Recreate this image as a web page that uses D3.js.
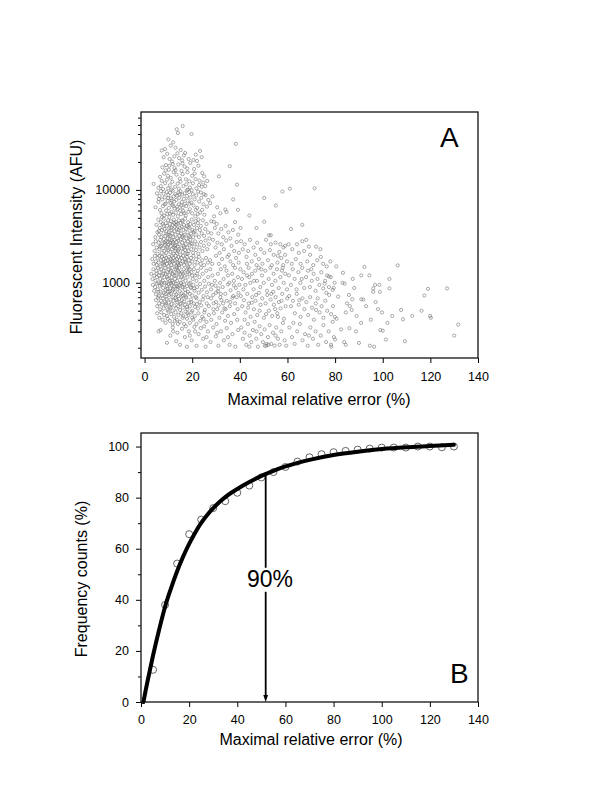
<!DOCTYPE html>
<html>
<head>
<meta charset="utf-8">
<script src="https://cdn.jsdelivr.net/npm/d3@7"></script>
<style>
body { margin: 0; background: #fff; }
text { font-family: Arial, "Liberation Sans", sans-serif; }
</style>
</head>
<body>
<script>
const width = 600;
const height = 800;

// ---- panel A data: [maximal relative error %, fluorescent intensity AFU] ----
const pointsHigh = [[16,48700],[13.5,45000],[14,41000],[19.7,40000],[10,35000],[12,32500],[38.3,31300],[7.2,26600],[23.3,26300],[21.5,24000],[15.2,26900],[8.6,27500],[11,30000],[13,28500],[17,25000],[9.5,24500],[12.5,23000],[14.5,22000],[18.5,21500],[20.5,21000],[22,20500],[10.5,21500],[16.5,23500],[24,22500],[11.5,20200],[13.8,24800],[8,22500],[15.8,20800],
 [35.8,18000],[31.2,14000],[3.8,11600],[38.8,11400],[71.4,10400],[61,10300],
 [7.5,17500],[9,18500],[10.2,16500],[11.8,19000],[12.6,17200],[14.2,18800],[15.5,16000],[16.8,17800],[18,15500],[19.2,19500],[20.8,16800],[22.6,18200],[24.2,15200],[25,14000],[8.2,15000],[9.8,14200],[11,13500],[12.2,15600],[13.4,14600],[14.8,13200],[16,14800],[17.4,13000],[18.8,12400],[20,14200],[21.4,13100],[23,12600],[24.6,12000],[25.5,11000],[6.5,13800],[7.2,12500],[8.6,11800],[9.4,12900],[10.6,11200],[11.6,12200],[12.8,10800],[13.9,11700],[15.1,12300],[16.3,11000],[17.6,11500],[19,10600],[20.3,11800],[21.8,10400],[22.9,11300],[24,10800],[5.8,10500],[7.8,10200],[9.9,10400],[11.3,10100],[14.4,10300],[18.2,10050],[6.8,11000],[26.3,12500],[13,16300],[10.4,18200],[15.9,19300],[17.9,17000],[21,15000],[8.9,16200]];

const points5k = [[57.9,9600],[50.2,8200],[37.2,7900],[55.1,6800],[39.2,6100],[33.9,6150],[34.4,5800],[28.5,8500],[30.5,6500],[27.5,7200],[31.8,5600],[44,5300],[29.2,5200],
 [5.2,9200],[5.8,7400],[6.3,8600],[6.5,6100],[6.9,9700],[7.1,5600],[7.4,7900],[7.7,6700],[8.0,9100],[8.2,5300],[8.5,8300],[8.8,7100],[9.0,6000],[9.3,9500],[9.5,5500],[9.7,7600],[10.0,8800],[10.2,6400],[10.4,5100],[10.7,9300],[10.9,7200],[11.1,8100],[11.3,5800],[11.6,6900],[11.8,9800],[12.0,5400],[12.2,8500],[12.4,7500],[12.6,6300],[12.9,9000],[13.1,5700],[13.3,7800],[13.5,8700],[13.7,6600],[14.0,5200],[14.2,9400],[14.4,7000],[14.6,8200],[14.9,6000],[15.1,9700],[15.3,5500],[15.6,7400],[15.8,8900],[16.0,6500],[16.3,5900],[16.5,8000],[16.8,9200],[17.0,7100],[17.3,5300],[17.5,6700],[17.8,8600],[18.1,7700],[18.4,5800],[18.7,9500],[19.0,6200],[19.3,8300],[19.6,7300],[20.0,5600],[20.3,9000],[20.6,6800],[21.0,7900],[21.3,5200],[21.7,8700],[22.1,6400],[22.5,9600],[22.9,7500],[23.3,5700],[23.8,8200],[24.2,6100],[24.7,7000],[25.1,5400],[25.6,8800],[26.2,6600],[8.4,7000],[11.4,7700],[13.9,6200],[16.7,5600],[19.8,9900],[22.3,5500],[14.7,9000],[12.1,6700],[9.9,8200],[7.3,5100],[6.0,8000],[18.9,7100],[23.6,9400],[21.5,6100],[10.6,5600],[15.4,6800],[17.7,9900],[4.6,6500],[26.8,7800],[24.9,9000]];

const points2k = [[4.5,3100],[5,4200],[5.4,3500],[5.8,4800],[6.1,3300],[6.4,3900],[6.8,4500],[7,3100],[7.3,3700],[7.6,4300],[7.9,3400],[8.1,4900],[8.4,3800],[8.7,3200],[8.9,4400],[9.2,3600],[9.4,4100],[9.7,3000],[9.9,4700],[10.1,3500],[10.4,3900],[10.6,4300],[10.9,3200],[11.1,4600],[11.3,3700],[11.6,3400],[11.8,4200],[12,3100],[12.3,4800],[12.5,3600],[12.7,4000],[13,3300],[13.2,4500],[13.4,3800],[13.7,3000],[13.9,4300],[14.1,3500],[14.4,4700],[14.6,3200],[14.8,3900],[15.1,4400],[15.3,3400],[15.6,4000],[15.8,3100],[16,4600],[16.3,3700],[16.5,4200],[16.8,3300],[17,4900],[17.3,3800],[17.5,3000],[17.8,4100],[18,3500],[18.3,4500],[18.6,3200],[18.9,3900],[19.2,4300],[19.5,3400],[19.8,4800],[20.1,3700],[20.4,3100],[20.7,4200],[21,3600],[21.4,4600],[21.7,3300],[22,3900],[22.4,4400],[22.8,3100],[23.2,3700],[23.6,4100],[24,3400],[24.5,4700],[25,3200],[25.5,3800],[26,4300],[26.6,3500],[27.2,3000],[6,3600],[8,4100],[10.3,3300],[12.4,4400],[14.3,3700],[16.2,3200],[18.4,4000],[20.5,3500],[22.6,4800],[11.2,3900],[13.3,4200],[15.7,4700],[9.6,3300],[19,3100],
 [3.6,2600],[4.2,2200],[4.7,2800],[5.1,2400],[5.5,2050],[5.9,2700],[6.2,2300],[6.6,2900],[6.9,2500],[7.2,2100],[7.5,2650],[7.8,2350],[8.1,2950],[8.3,2200],[8.6,2550],[8.9,2800],[9.1,2100],[9.4,2450],[9.7,2750],[10,2250],[10.2,2600],[10.5,2950],[10.8,2150],[11,2500],[11.3,2850],[11.5,2300],[11.8,2650],[12.1,2050],[12.3,2400],[12.6,2900],[12.9,2200],[13.1,2550],[13.4,2750],[13.6,2100],[13.9,2450],[14.2,2850],[14.4,2300],[14.7,2600],[15,2000],[15.2,2950],[15.5,2350],[15.8,2700],[16.1,2150],[16.4,2500],[16.7,2850],[17,2250],[17.3,2600],[17.6,2050],[17.9,2400],[18.2,2800],[18.5,2200],[18.9,2550],[19.2,2900],[19.6,2300],[20,2650],[20.4,2100],[20.8,2450],[21.2,2800],[21.6,2250],[22.1,2600],[22.6,2050],[23.1,2400],[23.7,2750],[24.3,2200],[24.9,2500],[25.6,2850],[26.3,2300],[27,2600],[6.4,2450],[9.6,2350],[11.9,2750],[14.1,2200],[16.6,2400],[19.4,2650],[13,2350],[10.7,2700],[18.1,2050],[8.4,2700],[12.7,2500]];

const points1k = [[3.2,1800],[3.8,1600],[4.3,1950],[4.7,1700],[5.1,1550],[5.5,1850],[5.9,1650],[6.2,1950],[6.6,1500],[6.9,1750],[7.3,1900],[7.6,1600],[7.9,1800],[8.2,1550],[8.5,1950],[8.8,1700],[9.1,1850],[9.4,1600],[9.7,1750],[10,1500],[10.3,1900],[10.6,1650],[10.9,1800],[11.2,1550],[11.5,1950],[11.8,1700],[12.1,1850],[12.4,1600],[12.7,1750],[13,1950],[13.3,1500],[13.6,1800],[13.9,1650],[14.2,1900],[14.5,1550],[14.8,1750],[15.2,1600],[15.5,1850],[15.9,1700],[16.2,1950],[16.6,1550],[17,1800],[17.4,1650],[17.8,1900],[18.2,1500],[18.6,1750],[19,1600],[19.5,1850],[20,1700],[20.5,1950],[21,1550],[21.6,1800],[22.2,1650],[22.8,1900],[23.5,1600],[24.2,1750],[25,1550],[25.8,1850],[26.6,1650],[27.5,1750],[28.4,1600],[8,1650],[11,1700],[14,1600],[17.2,1700],
 [2.8,1250],[3.3,1100],[3.7,1400],[4.1,1200],[4.5,1050],[4.9,1350],[5.2,1150],[5.6,1450],[5.9,1000],[6.3,1300],[6.6,1100],[7,1400],[7.3,1200],[7.6,1050],[8,1350],[8.3,1150],[8.6,1450],[8.9,1250],[9.2,1000],[9.5,1300],[9.8,1100],[10.1,1400],[10.4,1200],[10.7,1050],[11,1350],[11.3,1150],[11.6,1450],[11.9,1250],[12.2,1000],[12.5,1300],[12.8,1100],[13.1,1400],[13.4,1200],[13.7,1050],[14,1350],[14.3,1150],[14.6,1450],[15,1250],[15.3,1000],[15.7,1300],[16,1100],[16.4,1400],[16.8,1200],[17.2,1050],[17.6,1350],[18,1150],[18.4,1450],[18.8,1250],[19.2,1000],[19.7,1300],[20.2,1100],[20.7,1400],[21.2,1200],[21.8,1050],[22.4,1350],[23,1150],[23.7,1450],[24.4,1250],[25.1,1050],[25.9,1350],[26.7,1150],[27.6,1400],[28.5,1200],[29.5,1050],[6.1,1200],[7.8,1250],[9.4,1150],[10.9,1300],[12.6,1200],[14.4,1300],[16.2,1250],[18.1,1300],[20,1200],[11.5,1050],[13.5,1450],[15.5,1150],[7.1,1000],[5,1250],[19,1400],[22,1250]];

const pointsLow = [[3.5,950],[4,820],[4.4,900],[4.8,750],[5.2,980],[5.6,850],[6,720],[6.4,930],[6.7,800],[7.1,960],[7.4,730],[7.8,880],[8.1,780],[8.4,990],[8.8,840],[9.1,710],[9.4,920],[9.8,800],[10.1,970],[10.4,740],[10.8,870],[11.1,760],[11.4,950],[11.8,830],[12.1,700],[12.4,910],[12.8,790],[13.1,980],[13.4,750],[13.8,860],[14.1,720],[14.5,940],[14.8,810],[15.2,990],[15.5,770],[15.9,890],[16.2,730],[16.6,960],[17,840],[17.4,710],[17.8,920],[18.2,800],[18.6,980],[19,760],[19.5,880],[20,730],[20.5,950],[21,820],[21.5,700],[22.1,900],[22.7,780],[23.3,970],[24,840],[24.7,720],[25.4,910],[26.2,790],[27,980],[27.9,850],[28.8,740],[29.8,930],[30.8,810],[31.8,700],[5.8,800],[9.6,870],[13.5,920],[17.2,780],[20.8,870],[8.9,760],[12,860],[15.8,720],[19.3,900],[11,990],[16,910],[10.5,810],[14,900],
 [4.8,650],[5.3,560],[5.7,690],[6.1,600],[6.5,520],[6.9,640],[7.3,580],[7.7,680],[8.1,530],[8.5,620],[8.9,570],[9.3,670],[9.7,510],[10.1,610],[10.5,550],[10.9,660],[11.3,590],[11.7,500],[12.1,640],[12.5,570],[12.9,690],[13.3,530],[13.7,620],[14.1,560],[14.5,670],[14.9,510],[15.3,600],[15.7,650],[16.1,540],[16.6,630],[17,580],[17.5,690],[18,520],[18.5,610],[19,560],[19.5,660],[20,500],[20.6,600],[21.2,550],[21.8,680],[22.4,530],[23.1,620],[23.8,570],[24.5,660],[25.3,510],[26.1,600],[27,560],[27.9,680],[28.9,520],[30,620],[31.1,570],[32.3,650],[33.5,530],[11,540],[15,590],[19.6,620],[9,600],[13.5,650],[17.8,550],[22,590],
 [5.3,470],[6.2,420],[7,480],[7.6,400],[8.2,450],[8.8,370],[9.4,440],[10,490],[10.6,390],[11.2,460],[11.8,360],[12.4,430],[13,480],[13.6,400],[14.2,450],[14.8,380],[15.4,470],[16,420],[16.6,360],[17.2,490],[17.8,410],[18.4,450],[19,370],[19.7,480],[20.4,400],[21.1,440],[21.8,360],[22.6,470],[23.4,390],[24.2,430],[25.1,480],[26,380],[27,450],[28,400],[29.1,470],[30.2,360],[31.4,420],[32.6,480],[33.8,390],[35,440],[36.3,370],[37.6,460],[38.9,400],[12.7,390],[16.3,440],[20,420],[24.8,410],[9.7,410],[14,360],[18,470],
 [5.9,300],[9.4,226],[10.8,270],[11.9,330],[13.3,235],[13.8,290],[14.9,215],[15.7,320],[16.9,260],[17.8,205],[18.6,300],[19.8,240],[20.9,335],[21.8,210],[22.7,280],[23.6,325],[24.6,250],[25.6,205],[26.6,300],[27.7,230],[28.8,330],[29.9,265],[31,210],[32.1,300],[33.3,240],[34.5,325],[35.7,215],[36.9,280],[38.1,205],[39.3,310],[17.3,340],[21.2,300],[25,340],[12,300],[30.5,290],[26,260],[35,260],[6.7,310],[19,270]];

const pointsMid = [[28,4600],[29.1,4530],[29.5,3900],[30.3,4300],[31,3400],[32.2,3800],[33,3100],[34,4100],[35.2,3500],[36,3000],[37.1,3700],[38,4500],[39.3,3300],[28.7,2900],[29.8,2400],[30.6,2700],[31.5,2100],[32.4,2600],[33.3,2300],[34.3,2850],[35.4,2000],[36.5,2500],[37.6,2200],[38.7,2750],[39.6,2100],[30,1950],[31.2,1600],[32.5,1800],[33.7,1500],[34.8,1900],[36,1700],[37.2,1550],[38.4,1850],[39.5,1650],[30.8,1250],[32,1400],[33.2,1100],[34.4,1350],[35.6,1000],[36.8,1250],[38,1450],[39.2,1150],[35,1200],[31.7,1000],[37.5,1050],[28,3400],
 [32.8,900],[33.9,760],[35,960],[36.1,830],[37.2,720],[38.3,880],[39.4,780],[34.5,640],[35.8,560],[36.9,690],[38,600],[39.1,520],[33,600],[29,600],[31,870],[28.3,950],[30,780],[37.5,940],[26.5,700],[34,520],[39.8,950],[36,620],[32,760],[38.7,700],[30.5,520],
 [47,3900],[40.3,3900],[50.2,4550],[52.3,3250],[53,3250],[57,2600],[58.3,2400],[59,2500],
 [40.5,2800],[41.2,2300],[42,2600],[42.8,1900],[43.5,2200],[44.3,2900],[45,1700],[45.8,2400],[46.5,2000],[47.3,2700],[48,1800],[48.8,2300],[49.5,1600],[50.3,2100],[51,2900],[51.8,1750],[52.6,2250],[53.4,1550],[54.2,2000],[55,2700],[55.8,1650],[56.6,2150],[57.4,1850],[58.2,1550],[59,2000],[59.8,1700],[43,1600],[47,1550],[53,2600],[56,1950],
 [40.2,1400],[40.9,1100],[41.6,1300],[42.3,950],[43,1200],[43.7,1450],[44.4,1000],[45.1,1250],[45.8,850],[46.5,1350],[47.2,1050],[47.9,1450],[48.6,900],[49.3,1200],[50,1000],[50.7,1350],[51.4,820],[52.1,1100],[52.8,1450],[53.5,950],[54.2,1250],[54.9,1050],[55.6,1400],[56.3,880],[57,1150],[57.7,1350],[58.4,1000],[59.1,1250],[59.8,850],[44,1150],[49,1400],[54,800],[58,1450],[41.5,850],[46,1050],
 [40.4,720],[41,560],[41.7,650],[42.4,480],[43.1,760],[43.8,600],[44.5,430],[45.2,700],[45.9,520],[46.6,640],[47.3,450],[48,780],[48.7,580],[49.4,680],[50.1,420],[50.8,600],[51.5,740],[52.2,500],[52.9,660],[53.6,440],[54.3,580],[55,700],[55.7,470],[56.4,620],[57.1,530],[57.8,760],[58.5,410],[59.2,560],[59.9,680],[42,400],[45,610],[48.3,500],[51,460],[54.8,520],[57.5,640],[43.5,540],[46.8,740],[53.2,760],[56,430],
 [40.6,330],[41.3,250],[42,290],[42.7,215],[43.4,360],[44.1,270],[44.8,230],[45.5,310],[46.2,380],[46.9,250],[47.6,205],[48.3,340],[49,280],[49.7,230],[50.4,315],[51.1,210],[51.8,260],[52.5,350],[53.2,220],[53.9,290],[54.6,210],[55.3,330],[56,250],[56.7,215],[57.4,300],[58.1,370],[58.8,240],[59.5,210],[50.5,210],[51.3,220],[52,215],[44,205],[47,300],[55,270]];

const pointsTail = [[66.2,4200],[61.5,3800],[67.9,2900],[66.2,2800],[72,2450],[74,1900],
 [60.5,2600],[62,2300],[63.5,1800],[64.8,2100],[65.5,1600],[67,2200],[68.3,1700],[69.5,2000],[70.8,1550],[72.5,1750],[73.8,2300],[75,1600],[76.5,1500],[78,1700],[61.8,1600],[64,2600],[69,2450],
 [60.6,1200],[61.4,950],[62.2,1400],[63,1100],[63.8,850],[64.6,1300],[65.4,1000],[66.2,1450],[67,880],[67.8,1150],[68.6,1350],[69.4,900],[70.2,1050],[71,1250],[71.8,820],[72.6,1100],[73.4,950],[74.2,1300],[75,870],[75.8,1050],[76.6,1200],[77.4,900],[78.2,1150],[79,840],[79.8,1000],[66,1100],[70,1400],
 [60.7,720],[61.5,560],[62.3,640],[63.1,470],[63.9,760],[64.7,580],[65.5,430],[66.3,680],[67.1,520],[67.9,620],[68.7,450],[69.5,700],[70.3,540],[71.1,400],[71.9,600],[72.7,680],[73.5,480],[74.3,560],[75.1,420],[75.9,640],[76.7,500],[77.5,740],[78.3,460],[79.1,560],[79.9,430],[65,650],[72,510],
 [60.8,330],[61.9,260],[63,220],[64.1,300],[65.2,360],[66.3,240],[67.4,280],[68.5,210],[69.6,330],[70.7,250],[71.8,300],[72.9,215],[74,270],[75.1,350],[76.2,230],[77.3,300],[78.4,205],[79.5,260],[62.5,370],[69,270],
 [80.5,1500],[77.4,1170],[83.3,1280],[83.1,1000],[84,980],[79.4,880],[75.6,980],[76.3,780],[81.3,710],[85.8,740],[87.2,665],[91.9,660],[91,665],[96,800],[96,870],[96.8,950],[87.4,1100],[91,1200],[94.4,1200],[98.6,950],[102.8,870],[92.3,1480],[106.3,1540],[86.2,560],[87,510],[84.5,480],[80.6,410],[79,380],[82.5,315],[86,325],[88.8,300],[90.9,370],[95,400],[99,310],[100,305],[104,440],[98,520],[99.7,480],[90,225],[84.5,215],[83.8,230],[80,245],[78.3,215],[94.6,210],[96.4,205],[101.3,245],[109.3,235],[102,370],[112.4,440],[116.3,500],[119.9,440],[120.2,420],[117.5,730],[119,860],[127,870],[131.7,355],[130,270],[107.7,510],[108.5,405],[98.8,800],[102.8,1100],[88,880],[93,560],[89,440],[97,620],[85,600]];

const ticksX = [0, 20, 40, 60, 80, 100, 120, 140];
const ticksAy = [1000, 10000];
const minorAy = [200, 300, 400, 500, 600, 700, 800, 900, 2000, 3000, 4000, 5000, 6000, 7000, 8000, 9000, 20000, 30000, 40000, 50000, 60000];

// ---- panel B data: cumulative frequency ----
const errB = [5, 10, 15, 20, 25, 30, 35, 40, 45, 50, 55, 60, 65, 70, 75, 80, 85, 90, 95, 100, 105, 110, 115, 120, 125, 130];
const freqB = [12.6, 38, 54.2, 65.7, 71.4, 75.9, 78.6, 81.9, 84.7, 87.9, 90, 92, 94.1, 95.8, 97, 97.8, 98.3, 98.8, 99.2, 99.6, 99.6, 99.6, 100, 100, 99.7, 100];
const fitX = [1, 2, 3, 5, 7.5, 10, 12.5, 15, 17.5, 20, 22.5, 25, 27.5, 30, 32.5, 35, 37.5, 40, 45, 50, 55, 60, 65, 70, 80, 90, 100, 110, 120, 130];
const fitY = [0, 4.8, 9.4, 18.2, 28.2, 37.3, 44.6, 51.2, 56.9, 61.9, 66.3, 70.1, 73.2, 75.9, 78.2, 80.2, 81.9, 83.4, 86.1, 88.5, 90.5, 92.2, 93.6, 94.8, 96.7, 98, 99, 99.7, 100.2, 100.7];
const ticksBy = [0, 20, 40, 60, 80, 100];
const minorBy = [10, 30, 50, 70, 90];
const arrowX = 51.8;
const arrowFrom = 89.1;
const arrowLabel = '90%';

const svg = d3.select('body').append('svg').attr('width', width).attr('height', height);
svg.append('rect').attr('width', width).attr('height', height).attr('fill', '#fff');

function styleAxis(g, size) {
	g.select('.domain').remove();
	g.selectAll('line').attr('stroke', '#000').attr('stroke-width', 1);
	g.selectAll('text')
		.attr('fill', '#000')
		.style('font-family', 'Arial, "Liberation Sans", sans-serif')
		.style('font-size', size + 'px');
}

// ================= panel A =================
const fA = {left: 141, right: 478, top: 112, bottom: 358};
const xA = d3.scaleLinear().domain([-1.5, 140]).range([fA.left, fA.right]);
const yA = d3.scaleLog().domain([155, 69000]).range([fA.bottom, fA.top]);

const allA = pointsHigh.concat(points5k, points2k, points1k, pointsLow, pointsMid, pointsTail);

svg.append('g').selectAll('circle')
	.data(allA)
	.enter()
	.append('circle')
	.attr('cx', function(d){ return xA(d[0]) })
	.attr('cy', function(d){ return yA(d[1]) })
	.attr('r', 1.6)
	.attr('fill', 'none')
	.attr('stroke', '#747474')
	.attr('stroke-width', 0.6);

svg.append('g')
	.attr('transform', 'translate(0,' + fA.bottom + ')')
	.call(d3.axisBottom(xA).tickValues(ticksX).tickSize(5).tickPadding(9).tickSizeOuter(0))
	.call(styleAxis, 12.5);

svg.append('g')
	.attr('transform', 'translate(' + fA.left + ',0)')
	.call(d3.axisLeft(yA).tickValues(ticksAy).tickFormat(d3.format('d')).tickSize(5).tickPadding(6).tickSizeOuter(0))
	.call(styleAxis, 12.5);

svg.append('g')
	.attr('transform', 'translate(' + fA.left + ',0)')
	.call(d3.axisLeft(yA).tickValues(minorAy).tickFormat('').tickSize(3).tickSizeOuter(0))
	.call(styleAxis, 12.5);

svg.append('rect')
	.attr('x', fA.left).attr('y', fA.top)
	.attr('width', fA.right - fA.left).attr('height', fA.bottom - fA.top)
	.attr('fill', 'none').attr('stroke', '#111').attr('stroke-width', 1.3);

svg.append('text').attr('x', 319).attr('y', 405)
	.attr('text-anchor', 'middle').style('font-size', '16px')
	.text('Maximal relative error (%)');

svg.append('text')
	.attr('transform', 'translate(82,237) rotate(-90)')
	.attr('text-anchor', 'middle').style('font-size', '16px')
	.text('Fluorescent Intensity (AFU)');

svg.append('text').attr('x', 440).attr('y', 147).style('font-size', '28px').text('A');

// ================= panel B =================
const fB = {left: 141, right: 478, top: 433, bottom: 702};
const xB = d3.scaleLinear().domain([0, 140]).range([fB.left, fB.right]);
const yB = d3.scaleLinear().domain([0, 105.3]).range([fB.bottom, fB.top]);

svg.append('g').selectAll('circle')
	.data(errB)
	.enter()
	.append('circle')
	.attr('cx', function(d){ return xB(d) })
	.attr('cy', function(d, i){ return yB(freqB[i]) })
	.attr('r', 3.5)
	.attr('fill', 'none')
	.attr('stroke', '#555')
	.attr('stroke-width', 0.9);

const fitLine = d3.line()
	.x(function(d, i){ return xB(fitX[i]) })
	.y(function(d){ return yB(d) })
	.curve(d3.curveMonotoneX);

svg.append('path')
	.attr('d', fitLine(fitY))
	.attr('fill', 'none')
	.attr('stroke', '#000')
	.attr('stroke-width', 4)
	.attr('stroke-linecap', 'round');

// arrow at the 90% point
const ax = xB(arrowX);
svg.append('line')
	.attr('x1', ax).attr('x2', ax)
	.attr('y1', yB(arrowFrom)).attr('y2', yB(0) - 4)
	.attr('stroke', '#000').attr('stroke-width', 1.8);
svg.append('path')
	.attr('d', 'M' + (ax - 2.4) + ',' + (yB(0) - 7) + 'L' + (ax + 2.4) + ',' + (yB(0) - 7) + 'L' + ax + ',' + yB(0) + 'Z')
	.attr('fill', '#000');

const lbl = svg.append('text')
	.attr('x', xB(53.6)).attr('y', yB(45.1))
	.attr('text-anchor', 'middle').style('font-size', '23px')
	.text(arrowLabel);
const bb = lbl.node().getBBox();
svg.insert('rect', function(){ return lbl.node() })
	.attr('x', bb.x).attr('y', bb.y + 2)
	.attr('width', bb.width).attr('height', bb.height - 2)
	.attr('fill', '#fff');

svg.append('g')
	.attr('transform', 'translate(0,' + fB.bottom + ')')
	.call(d3.axisBottom(xB).tickValues(ticksX).tickSize(5).tickPadding(8).tickSizeOuter(0))
	.call(styleAxis, 12.5);

svg.append('g')
	.attr('transform', 'translate(' + fB.left + ',0)')
	.call(d3.axisLeft(yB).tickValues(ticksBy).tickSize(5).tickPadding(7).tickSizeOuter(0))
	.call(styleAxis, 12.5);

svg.append('g')
	.attr('transform', 'translate(' + fB.left + ',0)')
	.call(d3.axisLeft(yB).tickValues(minorBy).tickFormat('').tickSize(3).tickSizeOuter(0))
	.call(styleAxis, 12.5);

svg.append('rect')
	.attr('x', fB.left).attr('y', fB.top)
	.attr('width', fB.right - fB.left).attr('height', fB.bottom - fB.top)
	.attr('fill', 'none').attr('stroke', '#111').attr('stroke-width', 1.3);

svg.append('text').attr('x', 311).attr('y', 745)
	.attr('text-anchor', 'middle').style('font-size', '16px')
	.text('Maximal relative error (%)');

svg.append('text')
	.attr('transform', 'translate(87,579) rotate(-90)')
	.attr('text-anchor', 'middle').style('font-size', '16px')
	.text('Frequency counts (%)');

svg.append('text').attr('x', 450).attr('y', 683).style('font-size', '28px').text('B');
</script>
</body>
</html>
